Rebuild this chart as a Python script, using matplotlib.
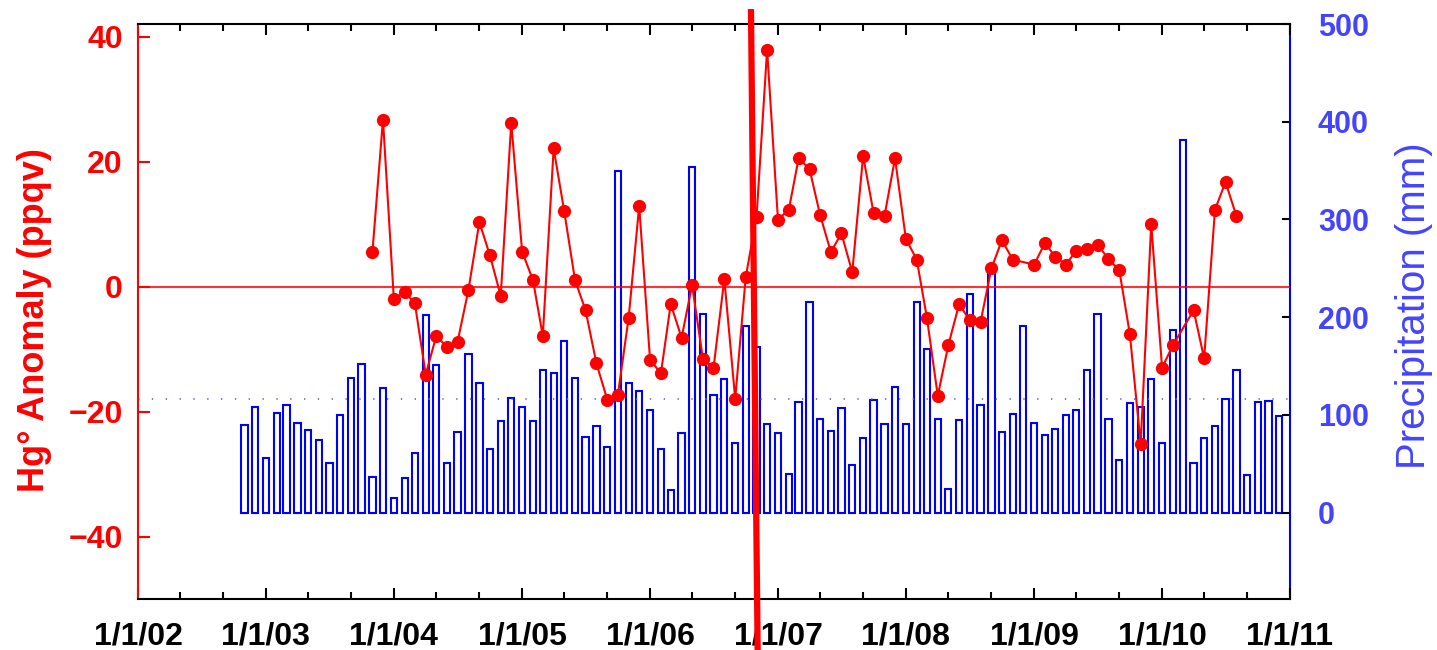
import numpy as np
import pandas as pd
import matplotlib
matplotlib.use('Agg')
import matplotlib.pyplot as plt
import matplotlib.dates as mdates
import matplotlib.transforms as mtrans

plt.rcParams['font.family'] = ['Liberation Sans', 'DejaVu Sans']

# monthly precipitation (mm), Nov 2002 - Dec 2010
precip_dates = pd.date_range('2002-11-01', periods=98, freq='MS')
precip = [90, 108, 56, 102, 110, 92, 84, 74, 51, 100, 138, 152, 36, 127, 15, 35,
          61, 202, 151, 51, 82, 162, 133, 65, 94, 117, 108, 94, 146, 143, 176, 138, 77,
          89, 67, 350, 133, 124, 105, 65, 23, 81, 354, 203, 120, 137, 71, 191, 169,
          91, 81, 39, 113, 215, 96, 83, 107, 49, 76, 115, 91, 128, 91, 215, 167, 96,
          24, 95, 224, 110, 245, 82, 101, 191, 92, 79, 86, 100, 105, 146, 203, 96,
          54, 112, 108, 137, 71, 187, 381, 51, 76, 89, 116, 146, 38, 113, 114, 99]
precip_mean = 116

# monthly Hg anomaly (ppqv), Nov 2003 - Aug 2010 (Dec 2008 and Mar 2010 missing)
hg_dates = pd.date_range('2003-11-01', '2010-08-01', freq='MS')
hg_dates = hg_dates[~hg_dates.isin(pd.to_datetime(['2008-12-01', '2010-03-01']))]
hg = [5.6, 26.7, -2.0, -0.9, -2.7, -14.1, -7.9, -9.7, -8.8, -0.5, 10.3, 5.0, -1.5,
      26.2, 5.6, 1.0, -7.9, 22.1, 12.1, 1.0, -3.8, -12.3, -18.1, -17.4, -5.0, 12.9,
      -11.7, -13.9, -2.8, -8.2, 0.2, -11.6, -13.1, 1.2, -18.0, 1.5, 11.2, 37.9, 10.7,
      12.3, 20.5, 18.8, 11.5, 5.5, 8.5, 2.3, 20.9, 11.7, 11.3, 20.5, 7.6, 4.3, -5.0,
      -17.5, -9.4, -2.8, -5.4, -5.7, 2.9, 7.4, 4.3, 3.5, 7.0, 4.8, 3.5, 5.7, 6.0,
      6.7, 4.4, 2.6, -7.6, -25.2, 10.0, -13.0, -9.4, -3.8, -11.5, 12.3, 16.7, 11.3]

# hand-drawn marker line around the end of 2006
event_top = pd.Timestamp('2006-10-16')
event_bottom = pd.Timestamp('2006-11-04')

red = '#ff0000'
blue = '#0000ff'
blue_text = '#4444ff'

fig = plt.figure(figsize=(14.37, 6.5), dpi=100)
ax = fig.add_axes([138 / 1437, 1 - 599 / 650, 1152 / 1437, 575 / 650])
ax2 = ax.twinx()
ax.set_zorder(ax2.get_zorder() + 1)
ax.patch.set_visible(False)

# precipitation bars on right axis
ax2.bar(precip_dates, precip, width=18, facecolor='none', edgecolor=blue,
        linewidth=1.5, align='center')
ax2.axhline(precip_mean, color='#6868b8', lw=1.2, dashes=(0.8, 7.5))
ax2.set_ylim(-88.5, 500)
ax2.set_yticks([0, 100, 200, 300, 400, 500])
ax2.tick_params(axis='y', direction='in', length=6, width=1.5, color='black',
                labelcolor=blue_text, labelsize=22, pad=20)
for lab in ax2.get_yticklabels():
    lab.set_fontweight('bold')
ax2.set_ylabel('Precipitation (mm)', color=blue_text, fontsize=29)
ax2.yaxis.set_label_coords(1.091, 0.51)
for s in ['left', 'top', 'bottom']:
    ax2.spines[s].set_visible(False)
ax2.spines['right'].set_color(blue)
ax2.spines['right'].set_linewidth(1.5)

# Hg anomaly on left axis
ax.axhline(0, color=red, lw=1.5, alpha=0.8)
ax.plot(hg_dates, hg, color=red, lw=1.5, marker='o', markersize=8.5)
ax.set_ylim(-50, 42)
ax.set_yticks([-40, -20, 0, 20, 40])
ax.tick_params(axis='y', direction='in', length=8.5, width=1.5, color=red,
               labelcolor=red, labelsize=23, pad=11, right=False)
ax.set_ylabel('Hg° Anomaly (ppqv)', color=red, fontsize=26, fontweight='bold')
ax.yaxis.set_label_coords(-0.075, 0.485)

ax.set_xlim(pd.Timestamp('2002-01-01'), pd.Timestamp('2011-01-01'))
ax.xaxis.set_major_locator(mdates.YearLocator())
ax.xaxis.set_minor_locator(mdates.MonthLocator(bymonth=[5, 9]))
ax.xaxis.set_major_formatter(
    plt.FuncFormatter(lambda v, p: (lambda d: f'{d.month}/{d.day}/{d:%y}')(mdates.num2date(v))))
ax.tick_params(axis='x', which='major', direction='in', length=8, width=1.5,
               top=True, labelsize=23, pad=16)
ax.tick_params(axis='x', which='minor', direction='in', length=5, width=1.5, top=True)
for lab in ax.get_xticklabels() + ax.get_yticklabels():
    lab.set_fontweight('bold')

ax.spines['left'].set_color(red)
ax.spines['right'].set_visible(False)
for s in ['left', 'top', 'bottom']:
    ax.spines[s].set_linewidth(1.5)

# thick red marker line crossing the whole plot
trans = mtrans.blended_transform_factory(ax.transData, ax.transAxes)
ax.plot([event_top, event_bottom], [1.026, -0.089], color=red, lw=4.5,
        transform=trans, clip_on=False, zorder=10, solid_capstyle='butt')

fig.savefig('out.png', dpi=100)
